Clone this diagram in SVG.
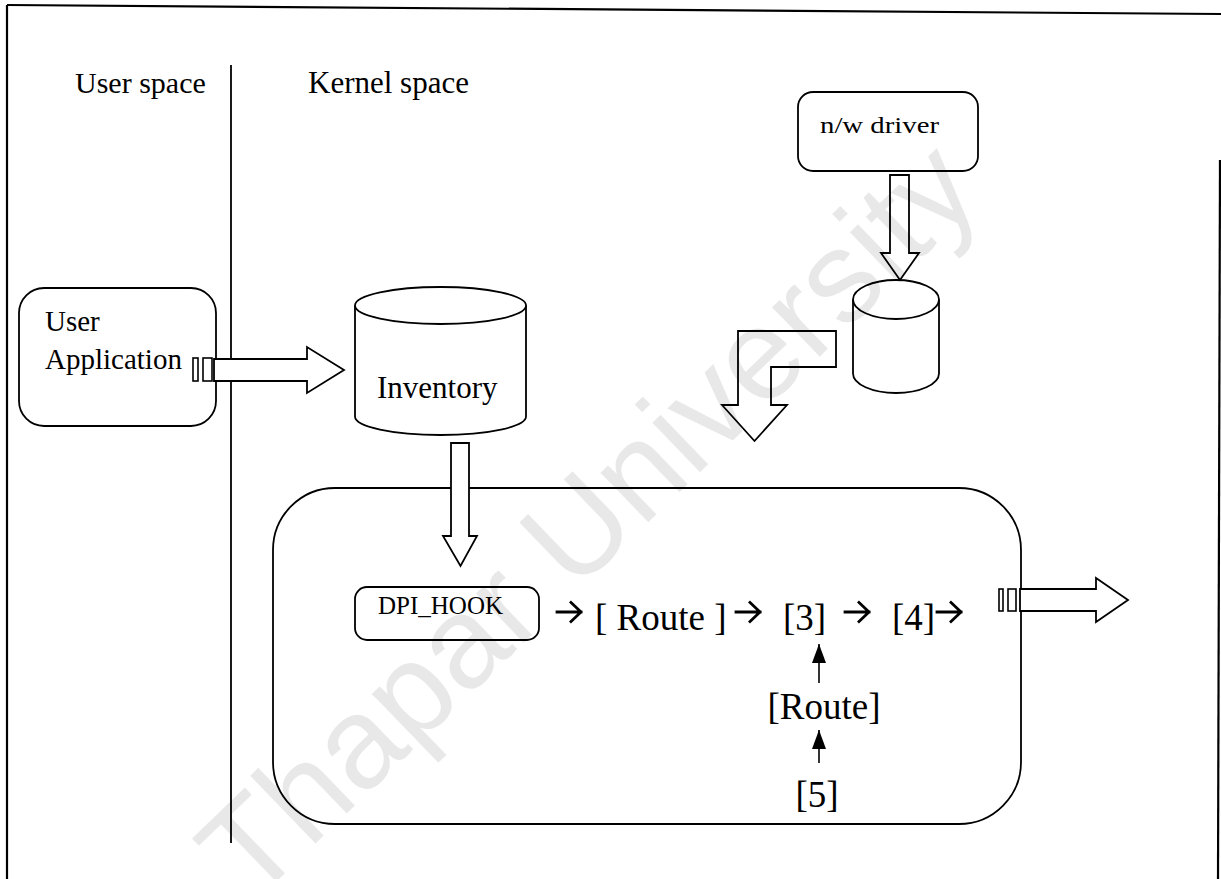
<svg xmlns="http://www.w3.org/2000/svg" width="1221" height="879" viewBox="0 0 1221 879">
  <style>
    .frame { fill: none; stroke: #000; stroke-width: 2.2; }
    .shape { fill: #fff; stroke: #000; stroke-width: 1.8; }
    .open { fill: none; stroke: #000; stroke-width: 1.8; }
    .port { fill: #fff; stroke: #000; stroke-width: 1.6; }
    .label { font-family: "Liberation Serif", "Times New Roman", serif; fill: #000; }
    .mark { font-family: "Liberation Sans", Arial, sans-serif; fill: #000; fill-opacity: 0.09; }
    .thin { fill: none; stroke: #000; stroke-width: 1.6; }
    .step { fill: none; stroke: #000; stroke-width: 2.8; stroke-linecap: square; stroke-linejoin: miter; }
  </style>
  <defs>
    <marker id="headUp" viewBox="0 0 19 14" refX="19" refY="7" markerWidth="19" markerHeight="14" markerUnits="userSpaceOnUse" orient="auto">
      <path d="M0,0 L19,7 L0,14 z" fill="#000"/>
    </marker>
    <!-- chevron arrow used between the chain steps -->
    <path id="stepArrow" class="step" d="M0,0 L24,0 M14,-9.5 L24,0 L14,9.5"/>
  </defs>

  <rect width="1221" height="879" fill="#fff"/>

  <!-- page frame -->
  <g id="frame">
    <path class="frame" d="M7,5 L1221,14"/>
    <path class="frame" d="M7,5 L7,879"/>
    <path class="frame" d="M1220,160 L1218,879"/>
  </g>

  <!-- user / kernel divider -->
  <g id="divider">
    <path class="open" d="M231,65 L231,843"/>
    <text class="label" x="75" y="93" font-size="30">User space</text>
    <text class="label" x="308" y="93" font-size="31">Kernel space</text>
  </g>

  <g id="user-application">
    <rect class="shape" x="19" y="288" width="197" height="138" rx="25" ry="25"/>
    <text class="label" x="45" y="331" font-size="29">User</text>
    <text class="label" x="45" y="369" font-size="29">Application</text>
  </g>

  <g id="inventory">
    <path class="shape" d="M355,305.5 L355,416.5 A85.5,18.5 0 0 0 526,416.5 L526,305.5"/>
    <ellipse class="shape" cx="440.5" cy="305.5" rx="85.5" ry="18.5"/>
    <text class="label" x="377" y="398" font-size="31">Inventory</text>
  </g>

  <g id="nw-driver">
    <rect class="shape" x="798" y="92" width="180" height="79" rx="15" ry="15"/>
    <text class="label" x="820" y="133" font-size="24" textLength="119" lengthAdjust="spacingAndGlyphs">n/w driver</text>
  </g>

  <g id="buffer">
    <path class="shape" d="M853,299.5 L853,373.5 A43,19.5 0 0 0 939,373.5 L939,299.5"/>
    <ellipse class="shape" cx="896" cy="299.5" rx="43" ry="19.5"/>
  </g>

  <g id="dpi-module">
    <rect class="shape" x="273" y="488" width="748" height="336" rx="62" ry="62"/>
  </g>

  <g id="dpi-hook">
    <rect class="shape" x="355" y="587" width="184" height="53" rx="12" ry="12"/>
    <text class="label" x="378" y="614" font-size="25">DPI_HOOK</text>
  </g>

  <!-- processing chain -->
  <g id="chain">
    <text class="label" y="630" font-size="37"><tspan x="595">[ Route ]</tspan><tspan x="783">[3]</tspan><tspan x="892">[4]</tspan></text>
    <text class="label" x="824" y="719" font-size="37" text-anchor="middle">[Route]</text>
    <text class="label" x="817" y="807" font-size="37" text-anchor="middle">[5]</text>
  </g>

  <!-- connectors -->
  <g id="connectors">
    <!-- user application to inventory -->
    <rect class="port" x="193" y="358" width="5" height="23"/>
    <rect class="port" x="203" y="358" width="9" height="23"/>
    <path class="shape" d="M214,359 L307,359 L307,347 L344,370 L307,393 L307,381 L214,381 z"/>

    <!-- inventory to DPI_HOOK -->
    <path class="shape" d="M451,443 L469,443 L469,536 L477,536 L460.5,566 L443,536 L451,536 z"/>

    <!-- n/w driver to buffer -->
    <path class="shape" d="M890,175 L909,175 L909,253 L919,253 L900,280 L881,253 L890,253 z"/>

    <!-- buffer into module -->
    <path class="shape" d="M836,331 L738,331 L738,405 L722,405 L754.5,441 L787,405 L771,405 L771,367 L836,367 z"/>

    <!-- module output -->
    <rect class="port" x="999" y="589" width="4" height="22"/>
    <rect class="port" x="1008" y="589" width="8" height="22"/>
    <path class="shape" d="M1020,589 L1096,589 L1096,578 L1128,600 L1096,622 L1096,611 L1020,611 z"/>

    <!-- chain step arrows -->
    <use href="#stepArrow" x="557" y="612"/>
    <use href="#stepArrow" x="736" y="612"/>
    <use href="#stepArrow" x="845" y="612"/>
    <use href="#stepArrow" x="937" y="612"/>

    <!-- vertical feeds into [3] -->
    <path class="thin" d="M819,683 L819,644" marker-end="url(#headUp)"/>
    <path class="thin" d="M819,763 L819,730" marker-end="url(#headUp)"/>
  </g>

  <!-- watermark laid over the page -->
  <text class="mark" x="252" y="905" font-size="130" transform="rotate(-44 252 905)">Thapar University</text>
</svg>
